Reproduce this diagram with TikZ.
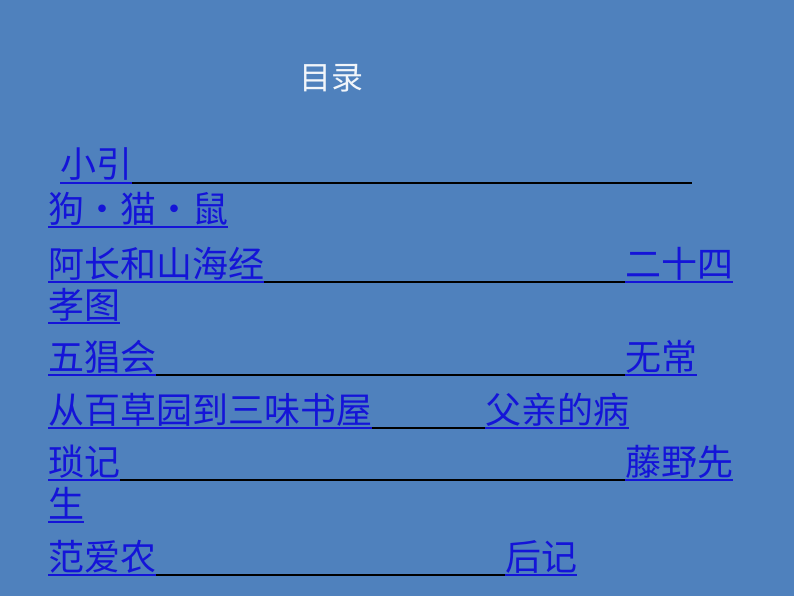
\documentclass[tikz,border=0pt]{standalone}
\usepackage{fontspec}
\newfontfamily\cjk{Noto Sans CJK SC}
\definecolor{bg}{HTML}{4F81BD}
\definecolor{lnk}{HTML}{1414D8}
\tikzset{
 item/.style={inner sep=0pt,anchor=base west,font=\cjk\fontsize{36}{36}\selectfont,text=lnk,xscale=1},
 ul/.style={lnk,line width=1.5pt},
 bl/.style={black,line width=1.5pt}
}
\newcommand\uline[1]{\draw[ul] ([yshift=-5pt]#1.base west)--([yshift=-5pt]#1.base east);}
\newcommand\bline[2]{\draw[bl] ([yshift=-5pt]#1.base east)--([yshift=-5pt]#2);}
\begin{document}
\begin{tikzpicture}[x=1pt,y=-1pt]
\fill[bg] (0,0) rectangle (794,596);
\useasboundingbox (0,0) rectangle (794,596);
\node[inner sep=0pt,font=\cjk\fontsize{32}{32}\selectfont,text=white!92!bg] (t) at (331,78) {目录};
\node[item] (a1) at (60,178) {小引}; \uline{a1}
\coordinate (e1) at (692,178);
\bline{a1}{e1}
\node[item] (a2) at (48,222) {狗·猫·鼠}; \uline{a2}
\node[item] (a3) at (48,277) {阿长和山海经}; \uline{a3}
\node[item] (b3) at (625,277) {二十四}; \uline{b3}
\bline{a3}{b3.base west}
\node[item] (a4) at (48,318) {孝图}; \uline{a4}
\node[item] (a5) at (48,370) {五猖会}; \uline{a5}
\node[item] (b5) at (625,370) {无常}; \uline{b5}
\bline{a5}{b5.base west}
\node[item] (a6) at (48,423) {从百草园到三味书屋}; \uline{a6}
\node[item] (b6) at (485,423) {父亲的病}; \uline{b6}
\bline{a6}{b6.base west}
\node[item] (a7) at (48,475) {琐记}; \uline{a7}
\node[item] (b7) at (625,475) {藤野先}; \uline{b7}
\bline{a7}{b7.base west}
\node[item] (a8) at (48,517) {生}; \uline{a8}
\node[item] (a9) at (48,570) {范爱农}; \uline{a9}
\node[item] (b9) at (505,570) {后记}; \uline{b9}
\bline{a9}{b9.base west}
\end{tikzpicture}
\end{document}
